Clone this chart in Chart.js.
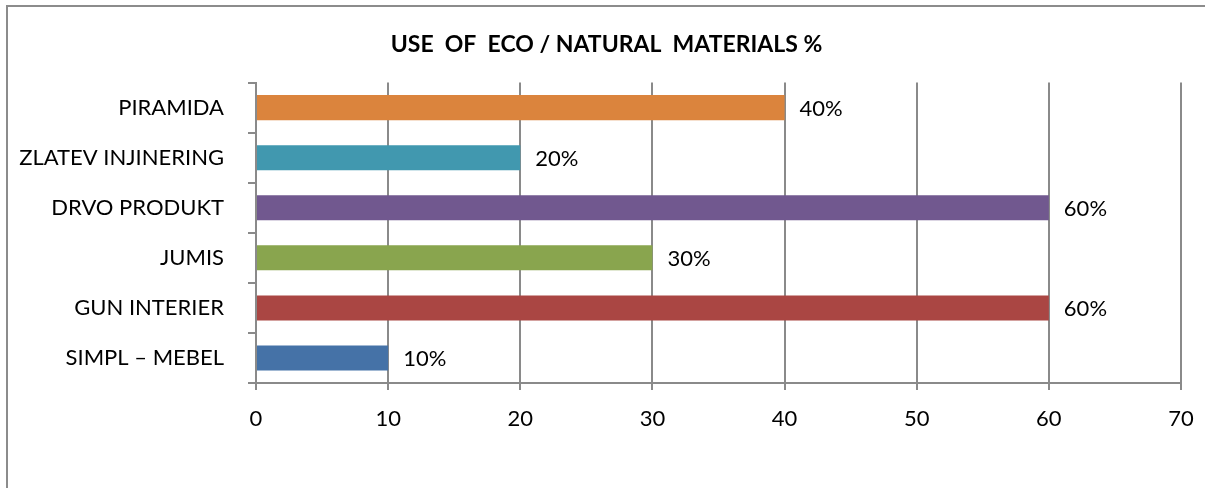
<!DOCTYPE html>
<html>
<head>
<meta charset="utf-8">
<script src="https://cdn.jsdelivr.net/npm/chart.js@4.4.1/dist/chart.umd.min.js"></script>
<style>
    body { margin: 0; background: #fff; }
    #frame {
        position: absolute;
        left: 6px;
        top: 5px;
        width: 1199px;
        height: 483px;
        border-left: 2px solid #8c8c8c;
        border-top: 2px solid #8c8c8c;
    }
    #myChart { position: absolute; left: 0; top: 0; }
</style>
</head>
<body>
<div id="frame"></div>
<canvas id="myChart" width="1205" height="488"></canvas>
<script>
let companies = ['PIRAMIDA', 'ZLATEV INJINERING', 'DRVO PRODUKT', 'JUMIS', 'GUN INTERIER', 'SIMPL \u2013 MEBEL'];
let ecoValues = [40, 20, 60, 30, 60, 10];
let barColors = ['#DB843D', '#4198AF', '#71588F', '#89A54E', '#AA4643', '#4572A7'];

let fontFamily = 'Lato, "Open Sans", sans-serif';
let gridColor = '#8a8a8a';

// value labels next to each bar, e.g. "40%"
let valueLabels = {
    id: 'valueLabels',
    afterLayout(chart) {
        // title sits a bit right of the canvas centre in the original
        if (chart.titleBlock) {
            chart.titleBlock.left = 32;
        }
    },
    afterDatasetsDraw(chart) {
        let ctx = chart.ctx;
        let meta = chart.getDatasetMeta(0);
        ctx.save();
        ctx.font = '22px ' + fontFamily;
        ctx.fillStyle = '#000';
        ctx.textBaseline = 'middle';
        ctx.textAlign = 'left';
        meta.data.forEach((bar, i) => {
            ctx.fillText(ecoValues[i] + '%', bar.x + 15, bar.y + 1);
        });
        ctx.restore();
    }
};

const data = {
    labels: companies,
    datasets: [{
        label: 'Eco / natural materials',
        data: ecoValues,
        backgroundColor: barColors,
        borderWidth: 0,
        barPercentage: 0.5,
        categoryPercentage: 1
    }]
};

const config = {
    type: 'bar',
    data: data,
    options: {
        indexAxis: 'y',
        responsive: false,
        animation: false,
        layout: {
            padding: { left: 0, right: 24, top: 0, bottom: 0 }
        },
        plugins: {
            legend: { display: false },
            tooltip: { enabled: false },
            title: {
                display: true,
                text: 'USE  OF  ECO / NATURAL  MATERIALS %',
                color: '#000',
                font: { family: fontFamily, size: 23, weight: 'bold', lineHeight: 1.2 },
                padding: { top: 31, bottom: 24 }
            }
        },
        scales: {
            x: {
                min: 0,
                max: 70,
                ticks: {
                    stepSize: 10,
                    color: '#000',
                    padding: 16,
                    font: { family: fontFamily, size: 22 }
                },
                grid: {
                    color: gridColor,
                    lineWidth: 2,
                    tickLength: 7
                },
                border: { color: gridColor, width: 2 },
                afterFit(scale) {
                    scale.height = 105;
                    scale.paddingLeft = 0;
                    scale.paddingRight = 0;
                }
            },
            y: {
                offset: true,
                ticks: {
                    color: '#000',
                    padding: 24,
                    font: { family: fontFamily, size: 22 }
                },
                grid: {
                    offset: true,
                    drawOnChartArea: false,
                    color: gridColor,
                    lineWidth: 2,
                    tickLength: 8
                },
                border: { color: gridColor, width: 2 },
                afterFit(scale) { scale.width = 256; }
            }
        }
    },
    plugins: [valueLabels]
};

let myChart = new Chart(
    document.getElementById('myChart'),
    config
);
</script>
</body>
</html>
